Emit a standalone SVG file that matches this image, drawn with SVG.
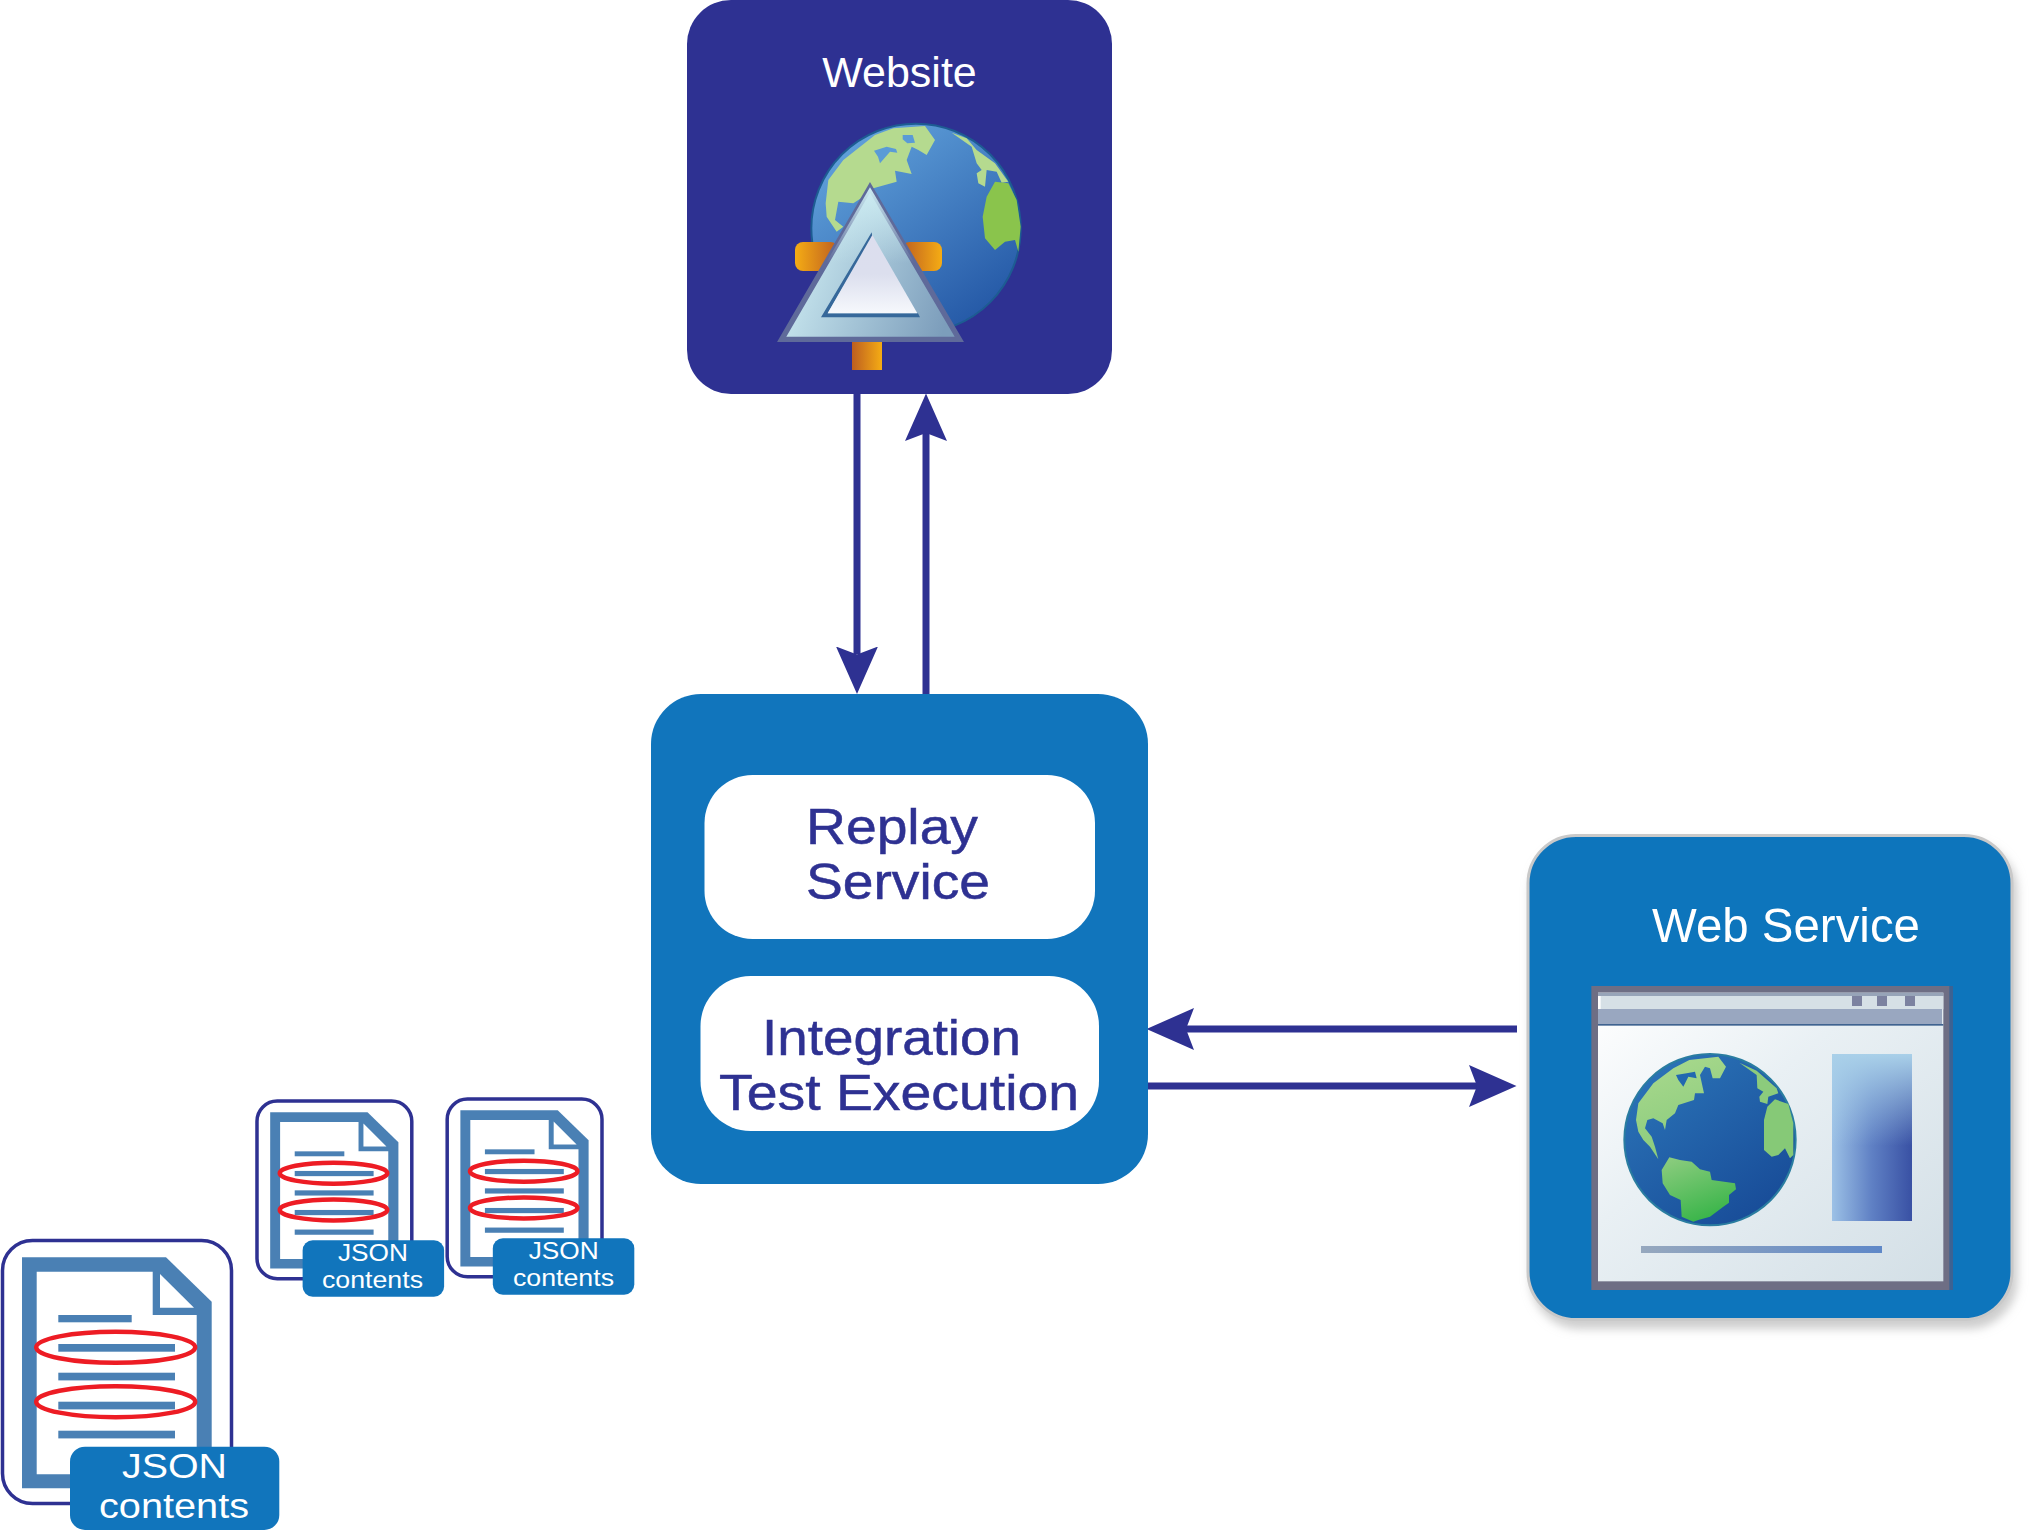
<svg xmlns="http://www.w3.org/2000/svg" xmlns:xlink="http://www.w3.org/1999/xlink" width="2040" height="1530" viewBox="0 0 2040 1530">
<style>
text{font-family:"Liberation Sans",Arial,sans-serif}
.w{fill:#fff}.n{fill:#2e3192;stroke:#2e3192;stroke-width:0.500}
.b{font-size:50px}.j{font-size:35px}.s{font-size:23.500px}
.conn{stroke:#2e3192;stroke-width:7;fill:none;marker-end:url(#head)}
.frame{fill:#fff;stroke:#2e3192;stroke-width:3.500;vector-effect:non-scaling-stroke}
.dl{fill:#4a80b4}
.rg{fill:none;stroke:#ed1c24;stroke-width:4.500;vector-effect:non-scaling-stroke}
.lab{fill:#1175bc}
</style>
<defs>
<marker id="head" markerUnits="userSpaceOnUse" viewBox="0 0 48 42" markerWidth="48" markerHeight="42" refX="8" refY="21" orient="auto"><path d="M0 0L47.500 21L0 42L8 21Z" fill="#2e3192"/></marker>
<linearGradient id="oc1" x1="0.15" y1="0.05" x2="0.8" y2="0.95"><stop offset="0" stop-color="#62a3dc"/><stop offset="1" stop-color="#2458a6"/></linearGradient>
<linearGradient id="oc2" x1="0.15" y1="0.1" x2="0.8" y2="0.95"><stop offset="0" stop-color="#2a72b6"/><stop offset="1" stop-color="#184c98"/></linearGradient>
<linearGradient id="gr" gradientUnits="userSpaceOnUse" x1="350" y1="700" x2="520" y2="1170"><stop offset="0" stop-color="#a8d88c"/><stop offset="0.6" stop-color="#88cb7c"/><stop offset="1" stop-color="#3ab54a"/></linearGradient>
<linearGradient id="tri" x1="0" y1="0.35" x2="1" y2="0.65"><stop offset="0" stop-color="#d2f0f5"/><stop offset="0.5" stop-color="#a6c6d8"/><stop offset="1" stop-color="#7c9dbb"/></linearGradient>
<linearGradient id="triV" x1="0" y1="0" x2="0" y2="1"><stop offset="0" stop-color="#cdecf2"/><stop offset="0.5" stop-color="#cdecf2" stop-opacity="0"/></linearGradient>
<linearGradient id="tin" x1="0" y1="0" x2="0" y2="1"><stop offset="0" stop-color="#dcdeee"/><stop offset="0.5" stop-color="#dcdfee"/><stop offset="1" stop-color="#f6f8fc"/></linearGradient>
<linearGradient id="orL"><stop offset="0" stop-color="#f5ac14"/><stop offset="1" stop-color="#bd5e20"/></linearGradient>
<linearGradient id="orR"><stop offset="0" stop-color="#bd5e20"/><stop offset="1" stop-color="#f5ac14"/></linearGradient>
<linearGradient id="page" x1="0" y1="0" x2="1" y2="1"><stop offset="0" stop-color="#fff"/><stop offset="0.4" stop-color="#e9f0f4"/><stop offset="1" stop-color="#d3dfe6"/></linearGradient>
<linearGradient id="sideH"><stop offset="0" stop-color="#9cc1e6"/><stop offset="0.5" stop-color="#5f80c4"/><stop offset="1" stop-color="#3951a4"/></linearGradient>
<linearGradient id="sideV" x1="0" y1="0" x2="0" y2="1"><stop offset="0" stop-color="#a9d0e9"/><stop offset="0.55" stop-color="#a9d0e9" stop-opacity="0"/></linearGradient>
<linearGradient id="bar"><stop offset="0" stop-color="#96a8be"/><stop offset="1" stop-color="#5f88c8"/></linearGradient>
<filter id="sh" x="-10%" y="-10%" width="125%" height="125%"><feGaussianBlur in="SourceAlpha" stdDeviation="5"/><feOffset dx="4" dy="8"/><feColorMatrix values="0 0 0 0 0.45 0 0 0 0 0.45 0 0 0 0 0.45 0 0 0 0.65 0"/><feMerge><feMergeNode/><feMergeNode in="SourceGraphic"/></feMerge></filter>
<g id="doc">
<rect class="frame" x="2.500" y="1240.500" width="229" height="263" rx="30"/>
<path class="dl" d="M22 1257.300H166L211.700 1301.700V1488.300H22Z"/>
<path fill="#fff" d="M36.700 1271.700H152.700V1315H196.700V1474.300H36.700Z"/>
<path fill="#fff" d="M160 1274L194 1307.700H160Z"/>
<rect class="dl" x="58.300" y="1315" width="73.400" height="7.300"/>
<rect class="dl" x="58.300" y="1344" width="116.700" height="7.700"/>
<rect class="dl" x="58.300" y="1372.700" width="116.700" height="7.700"/>
<rect class="dl" x="58.300" y="1401.700" width="116.700" height="7.700"/>
<rect class="dl" x="58.300" y="1430.700" width="116.700" height="7.700"/>
<ellipse class="rg" cx="115.700" cy="1347.300" rx="79.500" ry="15.500"/>
<ellipse class="rg" cx="115.700" cy="1401.700" rx="79.500" ry="15.500"/>
<rect class="lab" x="70" y="1446.700" width="209.300" height="83.300" rx="15"/>
</g>
</defs>

<g id="connectors">
<path class="conn" d="M857 394V654.500"/>
<path class="conn" d="M926 694V433"/>
<path class="conn" d="M1517 1029H1186"/>
<path class="conn" d="M1148 1086H1477"/>
</g>

<g id="website">
<rect x="687" y="0" width="425" height="394" rx="44" fill="#2e3192"/>
<text class="w" x="899.500" y="87" text-anchor="middle" font-size="43">Website</text>
<g transform="translate(680 0) scale(0.33333)">
<circle cx="708" cy="685" r="314" fill="url(#oc1)" stroke="#1d5c92" stroke-width="6"/>
<path fill="#b5da8f" d="M437 610L445 540L490 480L585 405L640 385L735 378L765 420L740 465L715 450L695 440L680 480L695 522L645 512L650 545L580 565L550 590L520 610L475 605L465 660L490 680L470 695L440 650Z"/>
<path fill="#5a9bd6" d="M668 405L698 405L705 428L682 430L668 418Z"/>
<path fill="#5a9bd6" d="M582 452L620 440L648 447L652 458L630 455L600 490L594 470Z"/>
<path fill="#b5da8f" d="M815 398L860 415L890 450L945 490L985 545L965 548L950 515L920 510L915 560L895 550L890 520L905 510L890 490L875 440Z"/>
<path fill="#8ac44c" d="M945 545L985 550L1010 600L1022 680L1015 755L1005 720L975 725L945 750L915 715L908 650L920 590Z"/>
<rect x="345" y="726" width="130" height="87" rx="24" fill="url(#orL)"/>
<rect x="665" y="726" width="121" height="87" rx="24" fill="url(#orR)"/>
<rect x="516" y="1020" width="90" height="90" fill="url(#orR)"/>
<path d="M570 562L305 1018H838Z" fill="url(#tri)" stroke="#5f6a9a" stroke-width="16"/>
<path d="M570 562L305 1018H838Z" fill="url(#triV)"/>
<path d="M575 697L423 952H720L714 940H443L577 712Z" fill="#36689a"/>
<path d="M577 705L712 940H443Z" fill="url(#tin)"/>
</g>
</g>

<g id="test-runner">
<rect x="651" y="694" width="497" height="490" rx="50" fill="#1175bc"/>
<g id="replay-service">
<rect x="704.500" y="775" width="390.500" height="164" rx="48" fill="#fff"/>
<text class="n b" x="806" y="843.500" textLength="172" lengthAdjust="spacingAndGlyphs">Replay</text>
<text class="n b" x="806" y="898.500" textLength="184" lengthAdjust="spacingAndGlyphs">Service</text>
</g>
<g id="integration-test">
<rect x="700.500" y="976" width="398.500" height="155" rx="50" fill="#fff"/>
<text class="n b" x="762" y="1054.500" textLength="259" lengthAdjust="spacingAndGlyphs">Integration</text>
<text class="n b" x="719" y="1109.500" textLength="360" lengthAdjust="spacingAndGlyphs">Test Execution</text>
</g>
</g>

<g id="web-service">
<rect x="1528" y="835.500" width="484" height="484" rx="48" fill="#1175bc" stroke="#c9c9c9" stroke-width="3" filter="url(#sh)"/>
<text class="w" x="1652" y="942" font-size="49" textLength="268" lengthAdjust="spacingAndGlyphs">Web Service</text>
<g transform="translate(1530 830) scale(0.33333)">
<rect x="184" y="468" width="1085" height="912" fill="#6e6e84"/>
<rect x="1258" y="468" width="11" height="912" fill="#3d6292"/>
<rect x="204" y="488" width="1036" height="866" fill="url(#page)"/>
<rect x="204" y="488" width="1036" height="10" fill="#97a4b8"/>
<rect x="212" y="498" width="1028" height="40" fill="#d6e0e6"/>
<rect x="204" y="537" width="1032" height="45" fill="#99a7c0"/>
<rect x="204" y="582" width="1036" height="5" fill="#3f6390"/>
<rect x="966" y="498" width="30" height="30" fill="#7c82a0"/>
<rect x="1041" y="498" width="30" height="30" fill="#7c82a0"/>
<rect x="1125" y="498" width="30" height="30" fill="#7c82a0"/>
<circle cx="540" cy="929" r="257" fill="url(#oc2)" stroke="#2a7da0" stroke-width="6"/>
<path fill="url(#gr)" d="M318 870L325 820L370 760L430 715L478 690L565 680L588 710L570 745L548 745L540 715L525 710L510 735L522 790L495 790L492 810L445 825L435 850L410 870L405 900L398 880L370 865L352 870L345 895L365 920L375 950L385 988L360 950L340 930L325 905Z"/>
<path fill="#2268b0" d="M438 735L470 730L495 725L500 745L475 740L460 770L445 750Z"/>
<path fill="url(#gr)" d="M395 1020L418 982L450 990L485 995L510 1018L540 1025L545 1050L615 1060L618 1078L597 1095L597 1118L580 1130L540 1160L505 1170L490 1175L455 1160L452 1110L420 1095L398 1060Z"/>
<path fill="#8ccb7c" d="M628 698L680 722L740 775L745 790L715 800L712 822L690 815L688 800L700 785L682 775L680 735Z"/>
<path fill="#86c977" d="M712 830L735 808L775 822L790 880L790 975L780 985L765 955L745 975L725 980L702 960L702 870Z"/>
<rect x="906" y="672" width="240" height="501" fill="url(#sideH)"/>
<rect x="906" y="672" width="240" height="501" fill="url(#sideV)"/>
<rect x="333" y="1248" width="723" height="21" fill="url(#bar)"/>
</g>
</g>

<g id="json-large">
<use xlink:href="#doc" href="#doc"/>
<text class="w j" x="122" y="1478" textLength="105" lengthAdjust="spacingAndGlyphs">JSON</text>
<text class="w j" x="99" y="1518" textLength="150" lengthAdjust="spacingAndGlyphs">contents</text>
</g>
<g id="json-small-1">
<use xlink:href="#doc" href="#doc" transform="translate(255.300 262.400) scale(0.676)"/>
<text class="w s" x="338" y="1261" textLength="70" lengthAdjust="spacingAndGlyphs">JSON</text>
<text class="w s" x="322" y="1287.500" textLength="101" lengthAdjust="spacingAndGlyphs">contents</text>
</g>
<g id="json-small-2">
<use xlink:href="#doc" href="#doc" transform="translate(445.500 260.400) scale(0.676)"/>
<text class="w s" x="528.700" y="1259" textLength="70" lengthAdjust="spacingAndGlyphs">JSON</text>
<text class="w s" x="513" y="1285.500" textLength="101" lengthAdjust="spacingAndGlyphs">contents</text>
</g>
</svg>
